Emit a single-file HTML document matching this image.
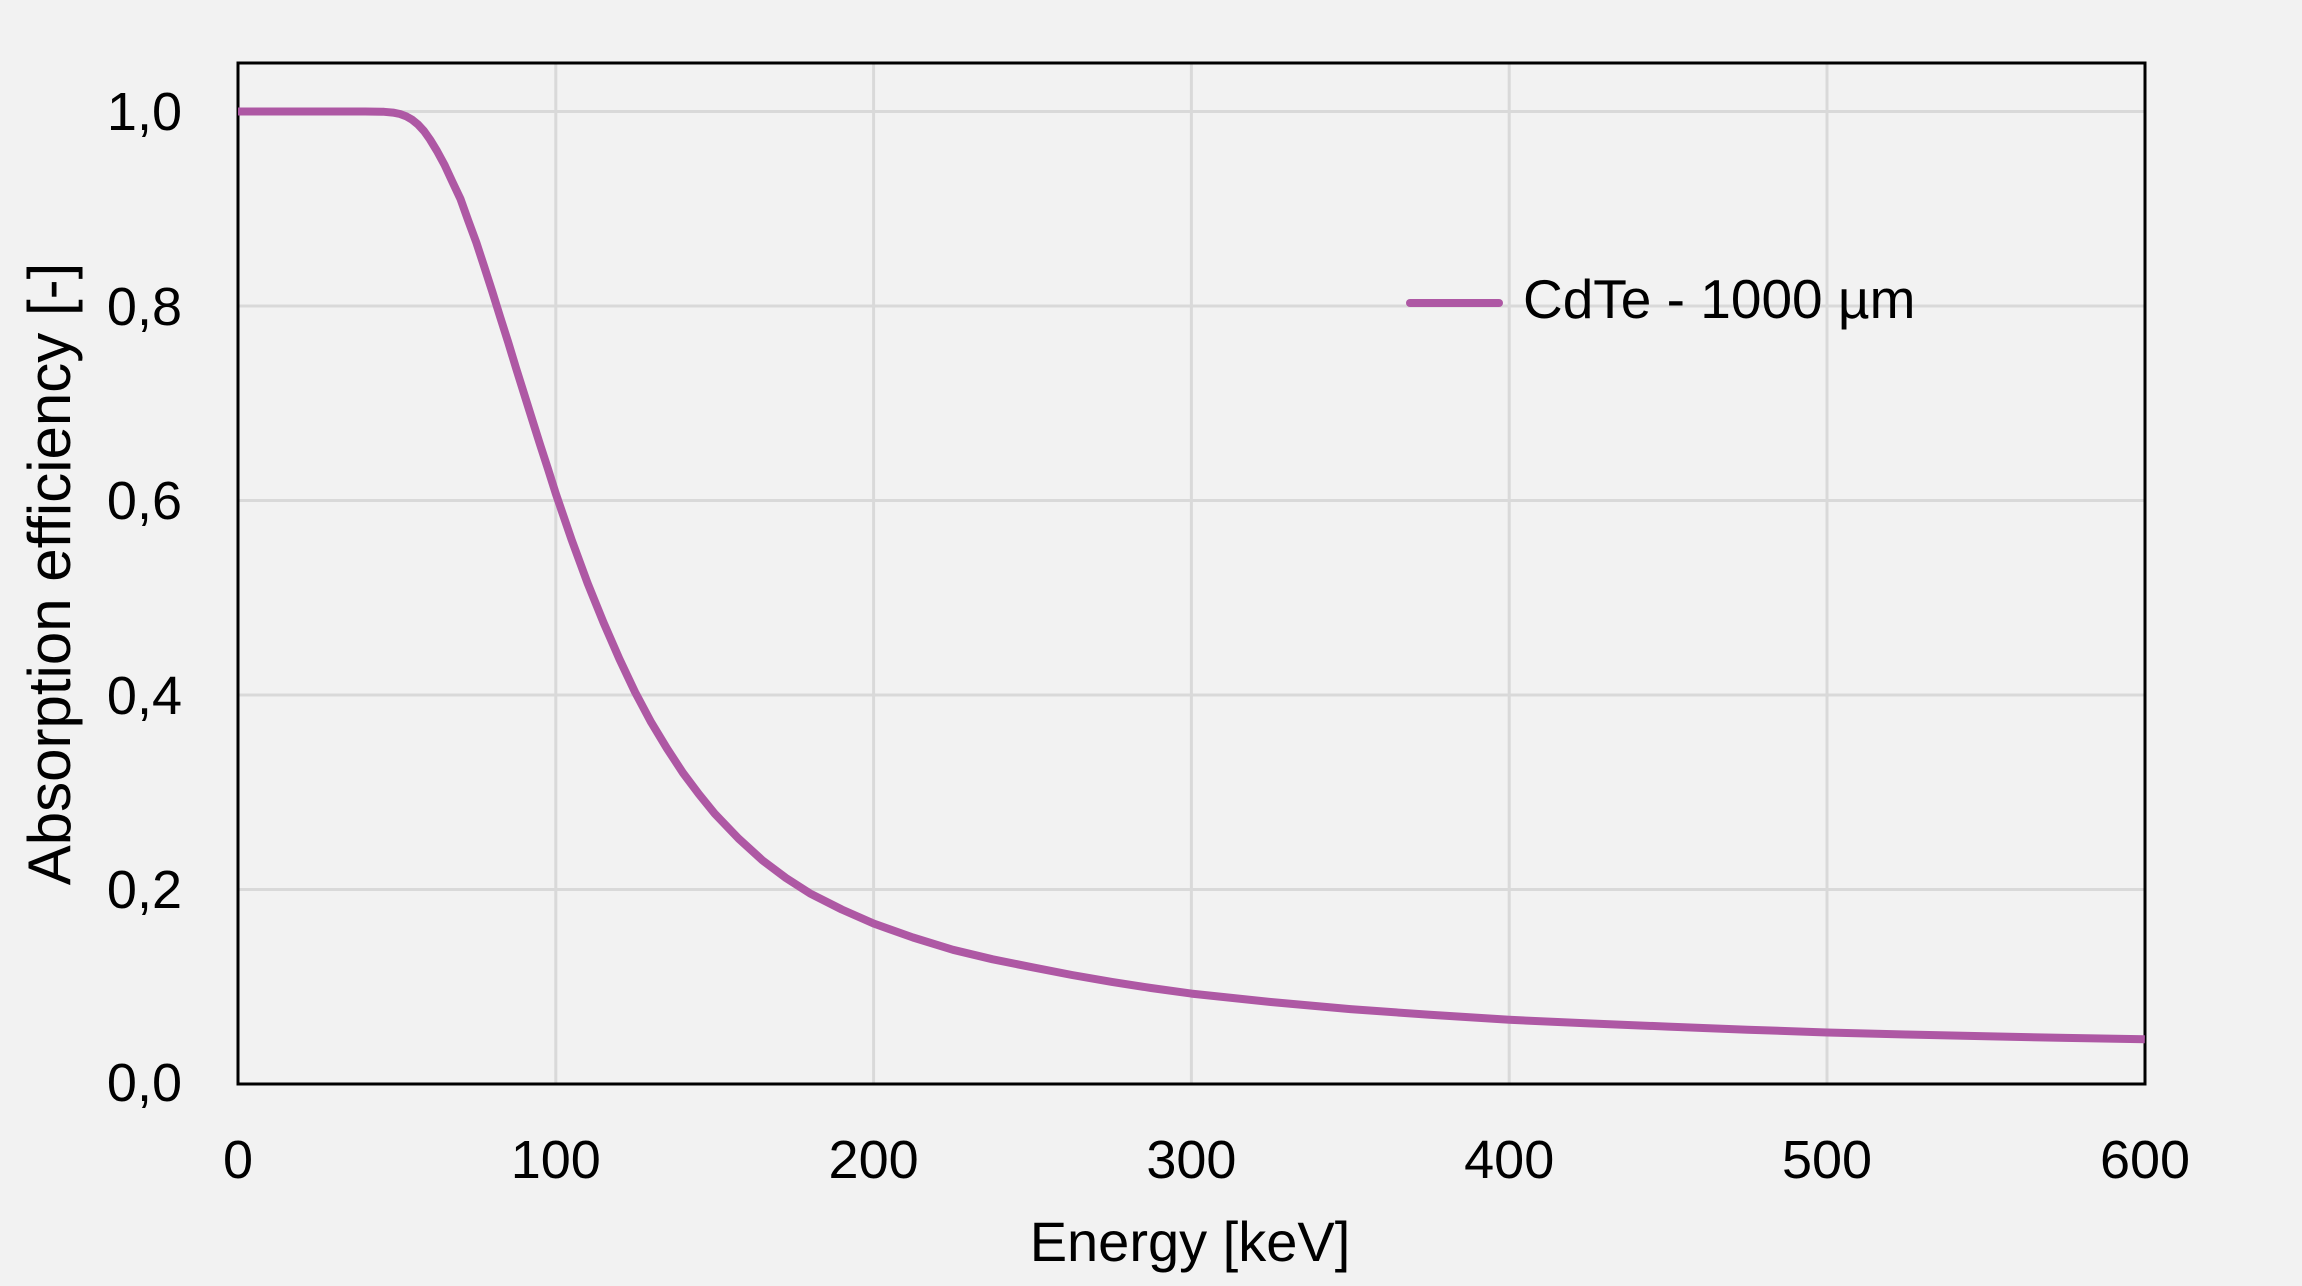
<!DOCTYPE html>
<html><head><meta charset="utf-8"><style>
html,body{margin:0;padding:0;background:#f2f2f2;}
svg{display:block;}
text{font-family:"Liberation Sans",sans-serif;fill:#000;}
</style></head><body>
<svg width="2302" height="1286" viewBox="0 0 2302 1286" xmlns="http://www.w3.org/2000/svg">
<rect width="2302" height="1286" fill="#f2f2f2"/>
<g stroke="#d9d9d9" stroke-width="3">
<line x1="555.8" y1="63" x2="555.8" y2="1084"/>
<line x1="873.6" y1="63" x2="873.6" y2="1084"/>
<line x1="1191.4" y1="63" x2="1191.4" y2="1084"/>
<line x1="1509.2" y1="63" x2="1509.2" y2="1084"/>
<line x1="1827" y1="63" x2="1827" y2="1084"/>
<line x1="238" y1="111.5" x2="2145" y2="111.5"/>
<line x1="238" y1="306" x2="2145" y2="306"/>
<line x1="238" y1="500.5" x2="2145" y2="500.5"/>
<line x1="238" y1="695" x2="2145" y2="695"/>
<line x1="238" y1="889.5" x2="2145" y2="889.5"/>
</g>
<rect x="238" y="63" width="1907" height="1021" fill="none" stroke="#000" stroke-width="3"/>
<polyline fill="none" stroke="#ae58a4" stroke-width="8" stroke-linejoin="round" points="238,111.5 365.1,111.5 384,111.8 393,112.6 400,114 406,116.2 412,119.6 418,124.5 424,131 430,139.5 437,151 444.6,165 452,181 460.5,199 468,220 476.4,242.8 484,266 492.2,291.4 500,316.5 508.1,342 516,368 524,393.5 532,419 539.9,444.1 548,469 555.8,493.7 571.7,540 587.6,583.2 603.5,622.5 619.4,659 635,692 651.1,722.2 667,748.5 682.9,772.8 698.8,794 714.7,813.6 738.5,838.5 762.4,860.3 786,878 810,893.4 841.8,909.5 873.6,923.5 913,937.5 953,949.8 992.7,959.3 1032.5,967.3 1072,975 1111.9,981.9 1151,988 1191.4,993.6 1270.8,1002 1350.3,1009.1 1429.8,1014.8 1509.2,1019.8 1588.6,1023.4 1668.1,1026.6 1747.6,1029.7 1827,1032.5 1906.5,1034.5 1985.9,1036.3 2065.4,1037.9 2144.8,1039.3"/>
<g font-size="54" text-anchor="end">
<text x="182" y="130">1,0</text>
<text x="182" y="325">0,8</text>
<text x="182" y="519">0,6</text>
<text x="182" y="714">0,4</text>
<text x="182" y="908">0,2</text>
<text x="182" y="1101">0,0</text>
</g>
<g font-size="54" text-anchor="middle">
<text x="238" y="1178">0</text>
<text x="555.8" y="1178">100</text>
<text x="873.6" y="1178">200</text>
<text x="1191.4" y="1178">300</text>
<text x="1509.2" y="1178">400</text>
<text x="1827" y="1178">500</text>
<text x="2145" y="1178">600</text>
</g>
<text x="1190" y="1261" font-size="56" text-anchor="middle">Energy [keV]</text>
<text transform="translate(70,574) rotate(-90)" font-size="60" text-anchor="middle">Absorption efficiency [-]</text>
<line x1="1410" y1="303" x2="1499" y2="303" stroke="#ae58a4" stroke-width="8" stroke-linecap="round"/>
<text x="1523" y="318" font-size="55">CdTe - 1000 µm</text>
</svg>
</body></html>
